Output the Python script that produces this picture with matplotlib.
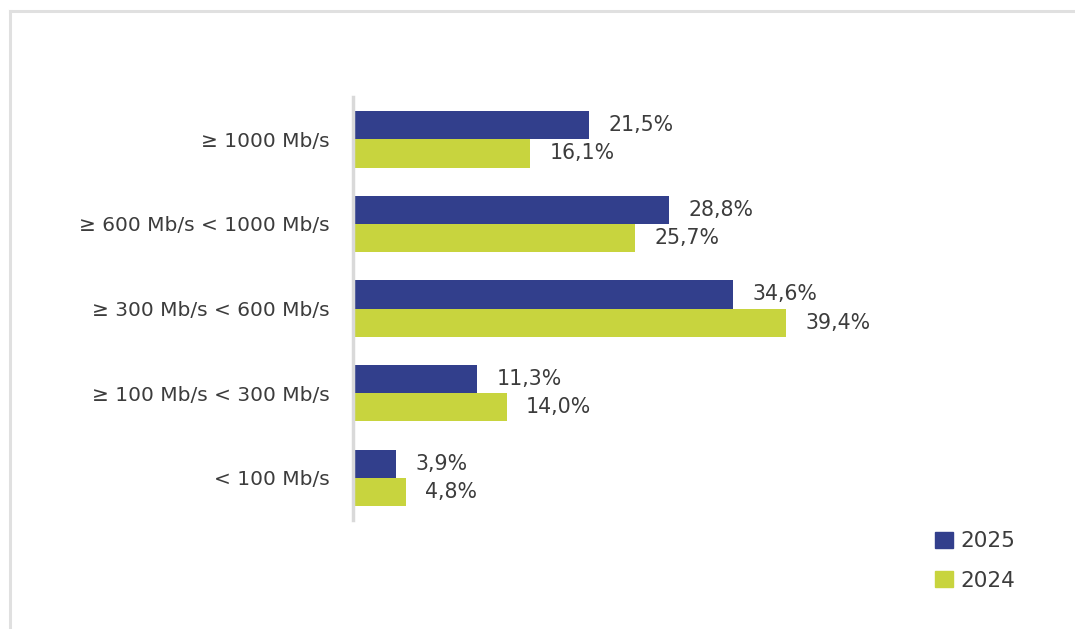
import matplotlib
matplotlib.use("Agg")
import matplotlib.pyplot as plt
from matplotlib.lines import Line2D
from matplotlib.patches import Patch

categories = ["≥ 1000 Mb/s", "≥ 600 Mb/s < 1000 Mb/s", "≥ 300 Mb/s < 600 Mb/s",
              "≥ 100 Mb/s < 300 Mb/s", "< 100 Mb/s"]
values_2025 = [21.5, 28.8, 34.6, 11.3, 3.9]
values_2024 = [16.1, 25.7, 39.4, 14.0, 4.8]
labels_2025 = ["21,5%", "28,8%", "34,6%", "11,3%", "3,9%"]
labels_2024 = ["16,1%", "25,7%", "39,4%", "14,0%", "4,8%"]

C25 = "#323f8c"
C24 = "#c8d43e"
TXT = "#3c3c3c"
FONT = ["DejaVu Sans"]
plt.rcParams["font.family"] = FONT

W, H = 1075, 629
fig = plt.figure(figsize=(W / 100, H / 100), dpi=100)

# frame lines
fig.add_artist(Line2D([10 / W, 1.0], [1 - 11 / H, 1 - 11 / H], color="#e0e0e0", lw=2.2,
                      transform=fig.transFigure))
fig.add_artist(Line2D([10 / W, 10 / W], [0, 1 - 11 / H], color="#e0e0e0", lw=2.2,
                      transform=fig.transFigure))

ax_l, ax_t, ax_b, ax_r = 353, 97, 520, 903
ax = fig.add_axes([ax_l / W, 1 - ax_b / H, (ax_r - ax_l) / W, (ax_b - ax_t) / H])

n = len(categories)
h = 1 / 3
y = list(range(n))
ax.barh([i - h / 2 for i in y], values_2025, height=h, color=C25, label="2025")
ax.barh([i + h / 2 for i in y], values_2024, height=h, color=C24, label="2024")
ax.set_ylim(n - 0.5, -0.5)
xmax = (ax_r - ax_l) / 10.98
ax.set_xlim(0, xmax)

for i in y:
    ax.annotate(labels_2025[i], (values_2025[i], i - h / 2), xytext=(14, 0),
                textcoords="offset points", va="center", ha="left", fontsize=14.8, color=TXT)
    ax.annotate(labels_2024[i], (values_2024[i], i + h / 2), xytext=(14, 0),
                textcoords="offset points", va="center", ha="left", fontsize=14.8, color=TXT)

ax.set_yticks(y)
ax.set_yticklabels(categories, fontsize=14.5, color=TXT)
ax.tick_params(axis="y", length=0, pad=16.5)
ax.set_xticks([])
for s in ["top", "right", "bottom"]:
    ax.spines[s].set_visible(False)
ax.spines["left"].set_color("#d9d9d9")
ax.spines["left"].set_linewidth(2.5)

handles = [Patch(color=C25), Patch(color=C24)]
fig.legend(handles, ["2025", "2024"], loc="center left",
           bbox_to_anchor=(916 / W, 1 - 561 / H), frameon=False, fontsize=15.5,
           handlelength=0.8, handleheight=0.8, handletextpad=0.35, labelspacing=0.9,
           labelcolor=TXT)

fig.savefig("out.png", dpi=100, facecolor="white")
